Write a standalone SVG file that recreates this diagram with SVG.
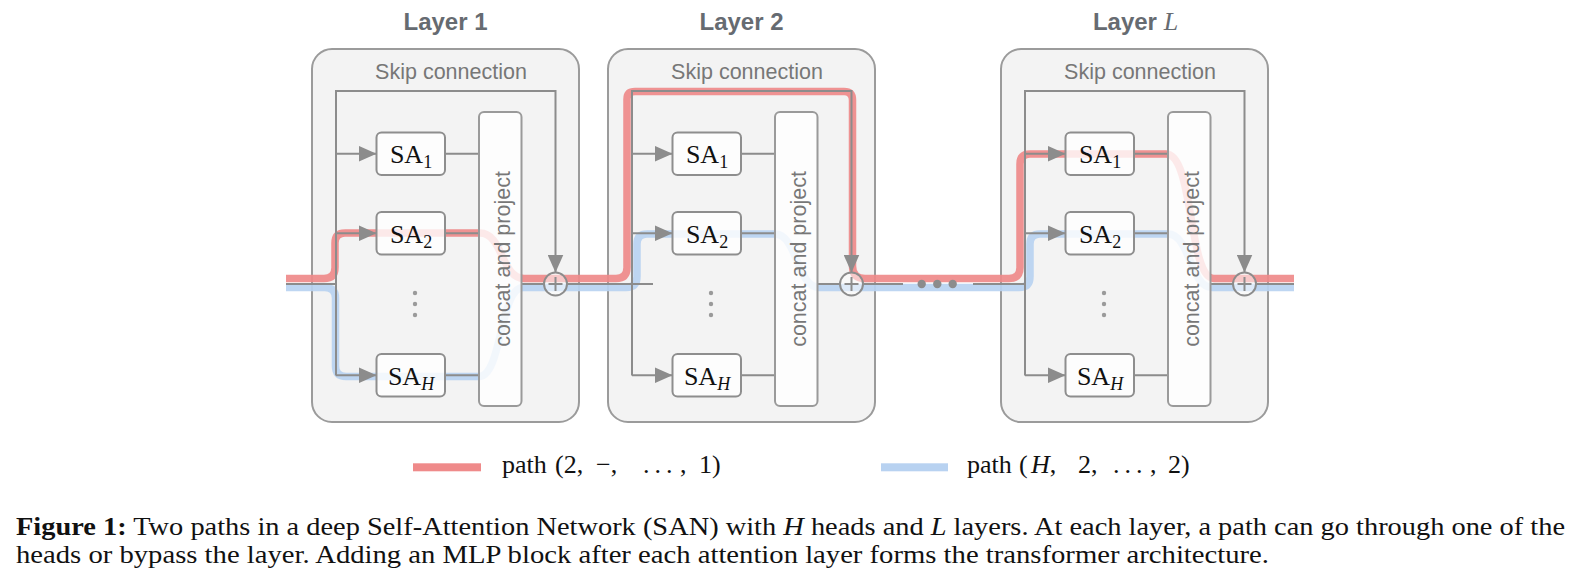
<svg xmlns="http://www.w3.org/2000/svg" width="1585" height="584" viewBox="0 0 1585 584">
<style>
.layer{fill:#f3f3f3;stroke:#9b9b9b;stroke-width:2}
.title{font-family:"Liberation Sans",Arial,sans-serif;font-weight:bold;font-size:24px;fill:#666b71;text-anchor:middle}
.mathL{font-family:"Liberation Serif","Times New Roman",serif;font-style:italic;font-weight:normal;font-size:26px}
.lbl{font-family:"Liberation Sans",Arial,sans-serif;font-size:21.5px;fill:#777;text-anchor:middle}
.sa{fill:#fff;fill-opacity:.8;stroke:#8e8e8e;stroke-width:2}
.cp{fill:#fff;fill-opacity:.8;stroke:#9a9a9a;stroke-width:2}
.satxt{font-family:"Liberation Serif","Times New Roman",serif;font-size:26px;fill:#111;text-anchor:middle}
.sub{font-size:18px}
.it{font-style:italic}
.wire{fill:none;stroke:#8c8c8c;stroke-width:2}
.red{fill:none;stroke:#ef8a8a;stroke-width:7.5;opacity:.92;stroke-linejoin:round}
.blue{fill:none;stroke:#b8d2f1;stroke-width:7.5;opacity:.92;stroke-linejoin:round}
.plus{fill:#fff;fill-opacity:.5;stroke:#8c8c8c;stroke-width:2}
.vdot{fill:#9a9a9a}
.hdot{fill:#8c8c8c}
.leg{font-family:"Liberation Serif","Times New Roman",serif;font-size:26px;fill:#111}
.ell{letter-spacing:5px}
.cap{font-family:"Liberation Serif","Times New Roman",serif;font-size:25.5px;fill:#111}
</style>
<defs>
<marker id="arr" viewBox="0 0 18 16" refX="18" refY="8" markerWidth="18" markerHeight="16" markerUnits="userSpaceOnUse" orient="auto">
<path d="M0,0 L18,8 L0,16 z" fill="#8c8c8c"/>
</marker>
<g id="plusSign"><circle class="plus" cx="0" cy="0" r="11.5"/><path class="wire" d="M-7,0 H7 M0,-7 V7"/></g>
</defs>

<!-- layer containers -->
<g id="layer1" transform="translate(312,0)">
<text class="title" x="133.5" y="30">Layer 1</text>
<rect class="layer" x="0" y="49" width="267" height="373" rx="20"/>
<text class="lbl" x="139" y="79">Skip connection</text>
</g>
<g id="layer2" transform="translate(608,0)">
<text class="title" x="133.5" y="30">Layer 2</text>
<rect class="layer" x="0" y="49" width="267" height="373" rx="20"/>
<text class="lbl" x="139" y="79">Skip connection</text>
</g>
<g id="layerL" transform="translate(1001,0)">
<text class="title" x="134.5" y="30">Layer <tspan class="mathL">L</tspan></text>
<rect class="layer" x="0" y="49" width="267" height="373" rx="20"/>
<text class="lbl" x="139" y="79">Skip connection</text>
</g>

<!-- highlighted paths -->
<g id="paths">
<path class="red" d="M286,278.5 H324 Q335,278.5 335,267.5 V243 Q335,233 345,233 H480 C503,233 501,278.5 524,278.5 H616 Q627,278.5 627,267.5 V99 Q627,91.5 635,91.5 H844 Q852.5,91.5 852.5,100 V266 Q852.5,278.5 865,278.5 H1009 Q1020,278.5 1020,267.5 V164 Q1020,154 1030,154 H1166 C1194,154 1188,278.5 1214,278.5 H1294"/>
<path class="blue" d="M286,287.5 H325 Q335.5,287.5 335.5,298 V366 Q335.5,376.5 346,376.5 H479 C502,376.5 500,287.5 523,287.5 H626 Q637,287.5 637,276.5 V244 Q637,234 647,234 H775 C797,234 797,287.5 819,287.5 H1019 Q1030,287.5 1030,276.5 V244 Q1030,234 1040,234 H1168 C1190,234 1190,287.5 1212,287.5 H1294"/>
</g>

<!-- connectors -->
<g id="connectors">
<path class="wire" d="M286,284 H336"/>
<path class="wire" d="M567,284 H653"/>
<path class="wire" d="M863,284 H903 M973,284 H1025"/>
<path class="wire" d="M1256,284 H1294"/>
<g transform="translate(312,0)">
<path class="wire" d="M24,375.5 V91 H243.5 V272.5" marker-end="url(#arr)"/>
<path class="wire" d="M24,153.75 H64.5" marker-end="url(#arr)"/>
<path class="wire" d="M24,233.25 H64.5" marker-end="url(#arr)"/>
<path class="wire" d="M24,375.25 H64.5" marker-end="url(#arr)"/>
<path class="wire" d="M133,153.75 H167 M133,233.25 H167 M133,375.25 H167 M209.5,284 H232"/>
</g>
<g transform="translate(608,0)">
<path class="wire" d="M24,375.5 V91 H243.5 V272.5" marker-end="url(#arr)"/>
<path class="wire" d="M24,153.75 H64.5" marker-end="url(#arr)"/>
<path class="wire" d="M24,233.25 H64.5" marker-end="url(#arr)"/>
<path class="wire" d="M24,375.25 H64.5" marker-end="url(#arr)"/>
<path class="wire" d="M133,153.75 H167 M133,233.25 H167 M133,375.25 H167 M209.5,284 H232"/>
</g>
<g transform="translate(1001,0)">
<path class="wire" d="M24,375.5 V91 H243.5 V272.5" marker-end="url(#arr)"/>
<path class="wire" d="M24,153.75 H64.5" marker-end="url(#arr)"/>
<path class="wire" d="M24,233.25 H64.5" marker-end="url(#arr)"/>
<path class="wire" d="M24,375.25 H64.5" marker-end="url(#arr)"/>
<path class="wire" d="M133,153.75 H167 M133,233.25 H167 M133,375.25 H167 M209.5,284 H232"/>
</g>
<circle class="hdot" cx="921.7" cy="284" r="4.2"/>
<circle class="hdot" cx="937.3" cy="284" r="4.2"/>
<circle class="hdot" cx="952.7" cy="284" r="4.2"/>
</g>

<!-- layer 1 nodes -->
<g transform="translate(312,0)">
<g id="l1-sa1"><rect class="sa" x="64.5" y="132.5" width="68.5" height="42.5" rx="5"/><text class="satxt" x="99" y="163.3">SA<tspan class="sub" dy="5">1</tspan></text></g>
<g id="l1-sa2"><rect class="sa" x="64.5" y="212" width="68.5" height="42.5" rx="5"/><text class="satxt" x="99" y="242.8">SA<tspan class="sub" dy="5">2</tspan></text></g>
<g id="l1-dots"><circle class="vdot" cx="103" cy="293" r="2.2"/><circle class="vdot" cx="103" cy="304" r="2.2"/><circle class="vdot" cx="103" cy="315" r="2.2"/></g>
<g id="l1-saH"><rect class="sa" x="64.5" y="354" width="68.5" height="42.5" rx="5"/><text class="satxt" x="99" y="384.8">SA<tspan class="sub it" dy="5">H</tspan></text></g>
<g id="l1-concat"><rect class="cp" x="167" y="112" width="42.5" height="294" rx="5"/><text class="lbl" transform="translate(197.5,259) rotate(-90)">concat and project</text></g>
<g id="l1-add"><use href="#plusSign" x="243.5" y="284"/></g>
</g>

<!-- layer 2 nodes -->
<g transform="translate(608,0)">
<g id="l2-sa1"><rect class="sa" x="64.5" y="132.5" width="68.5" height="42.5" rx="5"/><text class="satxt" x="99" y="163.3">SA<tspan class="sub" dy="5">1</tspan></text></g>
<g id="l2-sa2"><rect class="sa" x="64.5" y="212" width="68.5" height="42.5" rx="5"/><text class="satxt" x="99" y="242.8">SA<tspan class="sub" dy="5">2</tspan></text></g>
<g id="l2-dots"><circle class="vdot" cx="103" cy="293" r="2.2"/><circle class="vdot" cx="103" cy="304" r="2.2"/><circle class="vdot" cx="103" cy="315" r="2.2"/></g>
<g id="l2-saH"><rect class="sa" x="64.5" y="354" width="68.5" height="42.5" rx="5"/><text class="satxt" x="99" y="384.8">SA<tspan class="sub it" dy="5">H</tspan></text></g>
<g id="l2-concat"><rect class="cp" x="167" y="112" width="42.5" height="294" rx="5"/><text class="lbl" transform="translate(197.5,259) rotate(-90)">concat and project</text></g>
<g id="l2-add"><use href="#plusSign" x="243.5" y="284"/></g>
</g>

<!-- layer L nodes -->
<g transform="translate(1001,0)">
<g id="lL-sa1"><rect class="sa" x="64.5" y="132.5" width="68.5" height="42.5" rx="5"/><text class="satxt" x="99" y="163.3">SA<tspan class="sub" dy="5">1</tspan></text></g>
<g id="lL-sa2"><rect class="sa" x="64.5" y="212" width="68.5" height="42.5" rx="5"/><text class="satxt" x="99" y="242.8">SA<tspan class="sub" dy="5">2</tspan></text></g>
<g id="lL-dots"><circle class="vdot" cx="103" cy="293" r="2.2"/><circle class="vdot" cx="103" cy="304" r="2.2"/><circle class="vdot" cx="103" cy="315" r="2.2"/></g>
<g id="lL-saH"><rect class="sa" x="64.5" y="354" width="68.5" height="42.5" rx="5"/><text class="satxt" x="99" y="384.8">SA<tspan class="sub it" dy="5">H</tspan></text></g>
<g id="lL-concat"><rect class="cp" x="167" y="112" width="42.5" height="294" rx="5"/><text class="lbl" transform="translate(197.5,259) rotate(-90)">concat and project</text></g>
<g id="lL-add"><use href="#plusSign" x="243.5" y="284"/></g>
</g>

<!-- legend -->
<g id="legend-red">
<rect x="413" y="463.3" width="68" height="8" fill="#ef8a8a"/>
<text class="leg" y="473.3"><tspan x="502">path</tspan><tspan x="555">(2,</tspan><tspan x="596">−,</tspan><tspan x="643" class="ell">...</tspan><tspan x="680">,</tspan><tspan x="699">1)</tspan></text>
</g>
<g id="legend-blue">
<rect x="881" y="463.3" width="67" height="8" fill="#b8d2f1"/>
<text class="leg" y="473.3"><tspan x="967">path</tspan><tspan x="1019">(</tspan><tspan x="1031" class="it">H</tspan><tspan>,</tspan><tspan x="1078">2,</tspan><tspan x="1113" class="ell">...</tspan><tspan x="1150">,</tspan><tspan x="1168">2)</tspan></text>
</g>

<!-- caption -->
<g id="caption">
<text class="cap" x="16" y="534.5" textLength="1549" lengthAdjust="spacingAndGlyphs"><tspan font-weight="bold">Figure 1:</tspan> Two paths in a deep Self-Attention Network (SAN) with <tspan class="it">H</tspan> heads and <tspan class="it">L</tspan> layers. At each layer, a path can go through one of the</text>
<text class="cap" x="16" y="563" textLength="1253" lengthAdjust="spacingAndGlyphs">heads or bypass the layer. Adding an MLP block after each attention layer forms the transformer architecture.</text>
</g>
</svg>
